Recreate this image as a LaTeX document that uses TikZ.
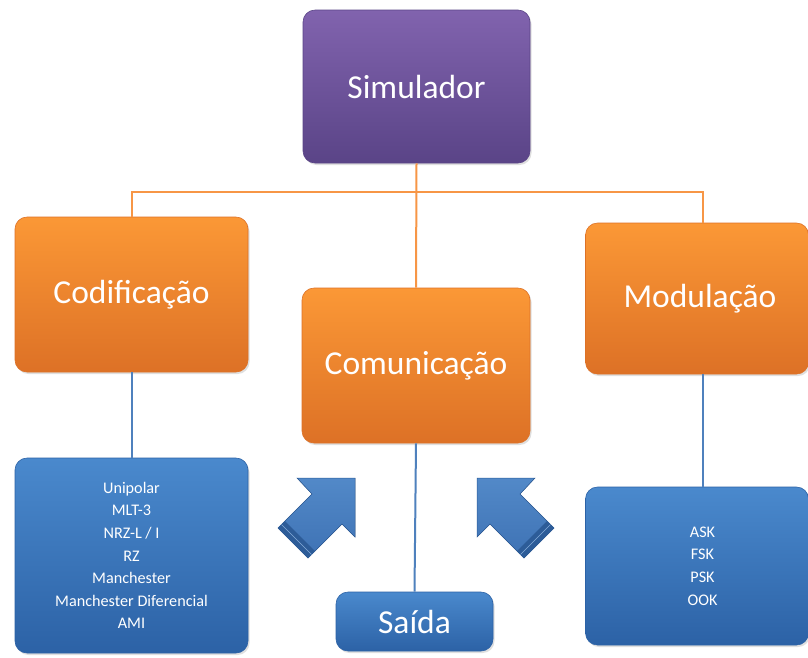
\documentclass[tikz,border=0pt]{standalone}
\usepackage{fontspec}
\setmainfont{Carlito}
\usetikzlibrary{shadows}
\definecolor{purT}{HTML}{8163AE}
\definecolor{purB}{HTML}{5A4487}
\definecolor{oraT}{HTML}{FB9836}
\definecolor{oraB}{HTML}{DD7126}
\definecolor{bluT}{HTML}{4A89CD}
\definecolor{bluB}{HTML}{2C62A6}
\definecolor{olineC}{HTML}{F79646}
\definecolor{blineC}{HTML}{4F81BD}
\definecolor{arrT}{HTML}{5289C8}
\definecolor{arrB}{HTML}{3E72B4}
\definecolor{arrD}{HTML}{2D5C98}
\begin{document}
\begin{tikzpicture}[x=1pt,y=-1pt,
  boxbase/.style={rounded corners=12pt, inner sep=0pt, align=center, text=white,
    line width=0.6pt,
    drop shadow={opacity=0.25, shadow xshift=1.5pt, shadow yshift=-2pt}},
  purbox/.style={boxbase, top color=purT, bottom color=purB, draw=purB},
  orabox/.style={boxbase, top color=oraT, bottom color=oraB, draw=oraB},
  blubox/.style={boxbase, top color=bluT, bottom color=bluB, draw=bluB},
  bigtext/.style={font=\fontsize{33.5}{40}\selectfont},
  smalltext/.style={font=\fontsize{16.2}{22.6}\selectfont},
  oline/.style={draw=olineC, line width=2pt},
  bline/.style={draw=blineC, line width=2pt},
  bigarrow/.pic={
    \fill[top color=arrT, bottom color=arrB, draw=arrD, line width=0.5pt]
      (355,478) -- (355,537) -- (342,524) -- (308,558) -- (278,528)
      -- (312,494) -- (297,478) -- cycle;
    \fill[arrD] (278,528) -- (308,558) -- (315,551) -- (285,521) -- cycle;
    \draw[arrT!70!white, line width=0.6pt] (281.5,524.5) -- (311.5,554.5);
  }
]
\useasboundingbox (0,0) rectangle (808,657);
\fill[white] (0,0) rectangle (808,657);

\node[purbox, bigtext, minimum width=227pt, minimum height=153pt] (sim) at (416.5,86.5) {Simulador};
\node[orabox, bigtext, minimum width=233pt, minimum height=155pt] (cod) at (131.5,294.5) {Codificação};
\node[orabox, bigtext, minimum width=228pt, minimum height=155pt] (com) at (416,365.5) {Comunicação};
\node[orabox, bigtext, minimum width=223pt, minimum height=151pt] (mod) at (697,298.5) {\hspace*{6pt}Modulação};
\node[blubox, smalltext, minimum width=233pt, minimum height=195pt] (lb) at (131.5,555.5)
  {Unipolar\\MLT-3\\NRZ-L / I\\RZ\\Manchester\\Manchester Diferencial\\AMI};
\node[blubox, smalltext, minimum width=223pt, minimum height=158pt] (rb) at (697,566)
  {\hspace*{11pt}ASK\\\hspace*{11pt}FSK\\\hspace*{11pt}PSK\\\hspace*{11pt}OOK};
\node[blubox, bigtext, minimum width=157pt, minimum height=59pt] (out) at (414.5,621.5) {Saída};

\coordinate (j) at (417,192);
\draw[oline] (sim.south) -- (com.north);
\draw[oline] (cod.north) -- (cod.north |- j) -- ([xshift=6pt]mod.north |- j) -- ([xshift=6pt]mod.north);
\draw[bline] (cod.south) -- (lb.north);
\draw[bline] (com.south) -- (out.north);
\draw[bline] ([xshift=6pt]mod.south) -- ([xshift=6pt]rb.north);

\pic at (0,0) {bigarrow};
\pic[xscale=-1] at (832,0) {bigarrow};
\end{tikzpicture}
\end{document}
